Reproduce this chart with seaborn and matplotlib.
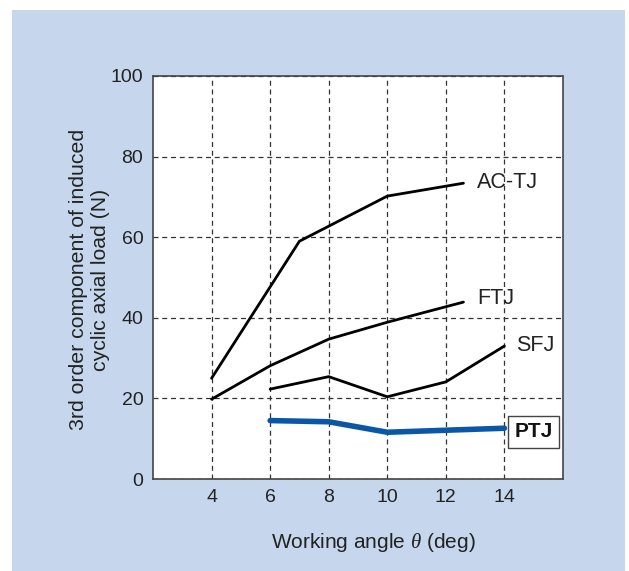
import pandas as pd
import seaborn as sns
import matplotlib.pyplot as plt
from matplotlib.patches import Rectangle

# data
actj_x = [4, 7, 10, 12.6]
actj_y = [25, 59, 70.2, 73.4]
ftj_x = [4, 6, 8, 10, 12.6]
ftj_y = [19.8, 28.1, 34.7, 38.9, 43.9]
sfj_x = [6, 8, 10, 12, 14]
sfj_y = [22.3, 25.4, 20.4, 24.1, 33.0]
ptj_x = [6, 8, 10, 12, 14]
ptj_y = [14.5, 14.2, 11.6, 12.1, 12.6]
xticks = [4, 6, 8, 10, 12, 14]
yticks = [0, 20, 40, 60, 80, 100]

sns.set_style('white')
plt.rcParams['font.family'] = ['Liberation Sans', 'DejaVu Sans']
plt.rcParams['mathtext.fontset'] = 'custom'
plt.rcParams['mathtext.it'] = 'Liberation Serif:italic'

fig = plt.figure(figsize=(6.29, 5.71), dpi=100)
fig.patches.append(Rectangle((12/629, 0), 613/629, 561/571, transform=fig.transFigure,
                             facecolor='#c6d7ed', edgecolor='none', zorder=-5))
ax = fig.add_axes([153/629, 92/571, 410/629, 403/571])
ax.set_facecolor('white')

series = [('AC-TJ', actj_x, actj_y, 'k', 2.0),
          ('FTJ', ftj_x, ftj_y, 'k', 2.0),
          ('SFJ', sfj_x, sfj_y, 'k', 2.0),
          ('PTJ', ptj_x, ptj_y, '#0a57a8', 4.0)]
for name, xs, ys, col, lw in series:
    df = pd.DataFrame({'x': xs, 'y': ys})
    sns.lineplot(data=df, x='x', y='y', ax=ax, color=col, linewidth=lw, zorder=3)

ax.set_xlim(2, 16)
ax.set_ylim(0, 100)
ax.set_xticks(xticks)
ax.set_yticks(yticks)
ax.tick_params(length=0, labelsize=14, colors='#222222', pad=7)
ax.grid(True, color='#333333', linestyle=(0, (4, 3)), linewidth=0.9)
for s in ax.spines.values():
    s.set_color('#444444')
    s.set_linewidth(1.2)
ax.spines['top'].set_visible(False)
ax.spines['right'].set_visible(False)
ax.plot([2, 16], [100, 100], color='#444444', lw=1.2, clip_on=False, zorder=4)
ax.plot([16, 16], [0, 100], color='#444444', lw=1.2, clip_on=False, zorder=4)

ax.set_xlabel('Working angle $\\theta$ (deg)', fontsize=15, color='#222222')
ax.set_ylabel('3rd order component of induced\ncyclic axial load (N)', fontsize=15.3,
              color='#222222', linespacing=1.25)
ax.xaxis.set_label_coords(0.537, -0.13)
ax.yaxis.set_label_coords(-0.104, 0.494)

ax.text(13.06, 73.5, 'AC-TJ', fontsize=15.5, va='center', ha='left', color='#222222')
ax.text(13.06, 44.7, 'FTJ', fontsize=15.5, va='center', ha='left', color='#222222')
ax.text(14.4, 33.1, 'SFJ', fontsize=15.5, va='center', ha='left', color='#222222')
ax.text(15.0, 11.7, 'PTJ', fontsize=15, fontweight='bold', va='center', ha='center',
        color='#111111', zorder=5,
        bbox=dict(boxstyle='square,pad=0.3', facecolor='white', edgecolor='#444444', linewidth=1))

fig.savefig('out.png', dpi=100)
